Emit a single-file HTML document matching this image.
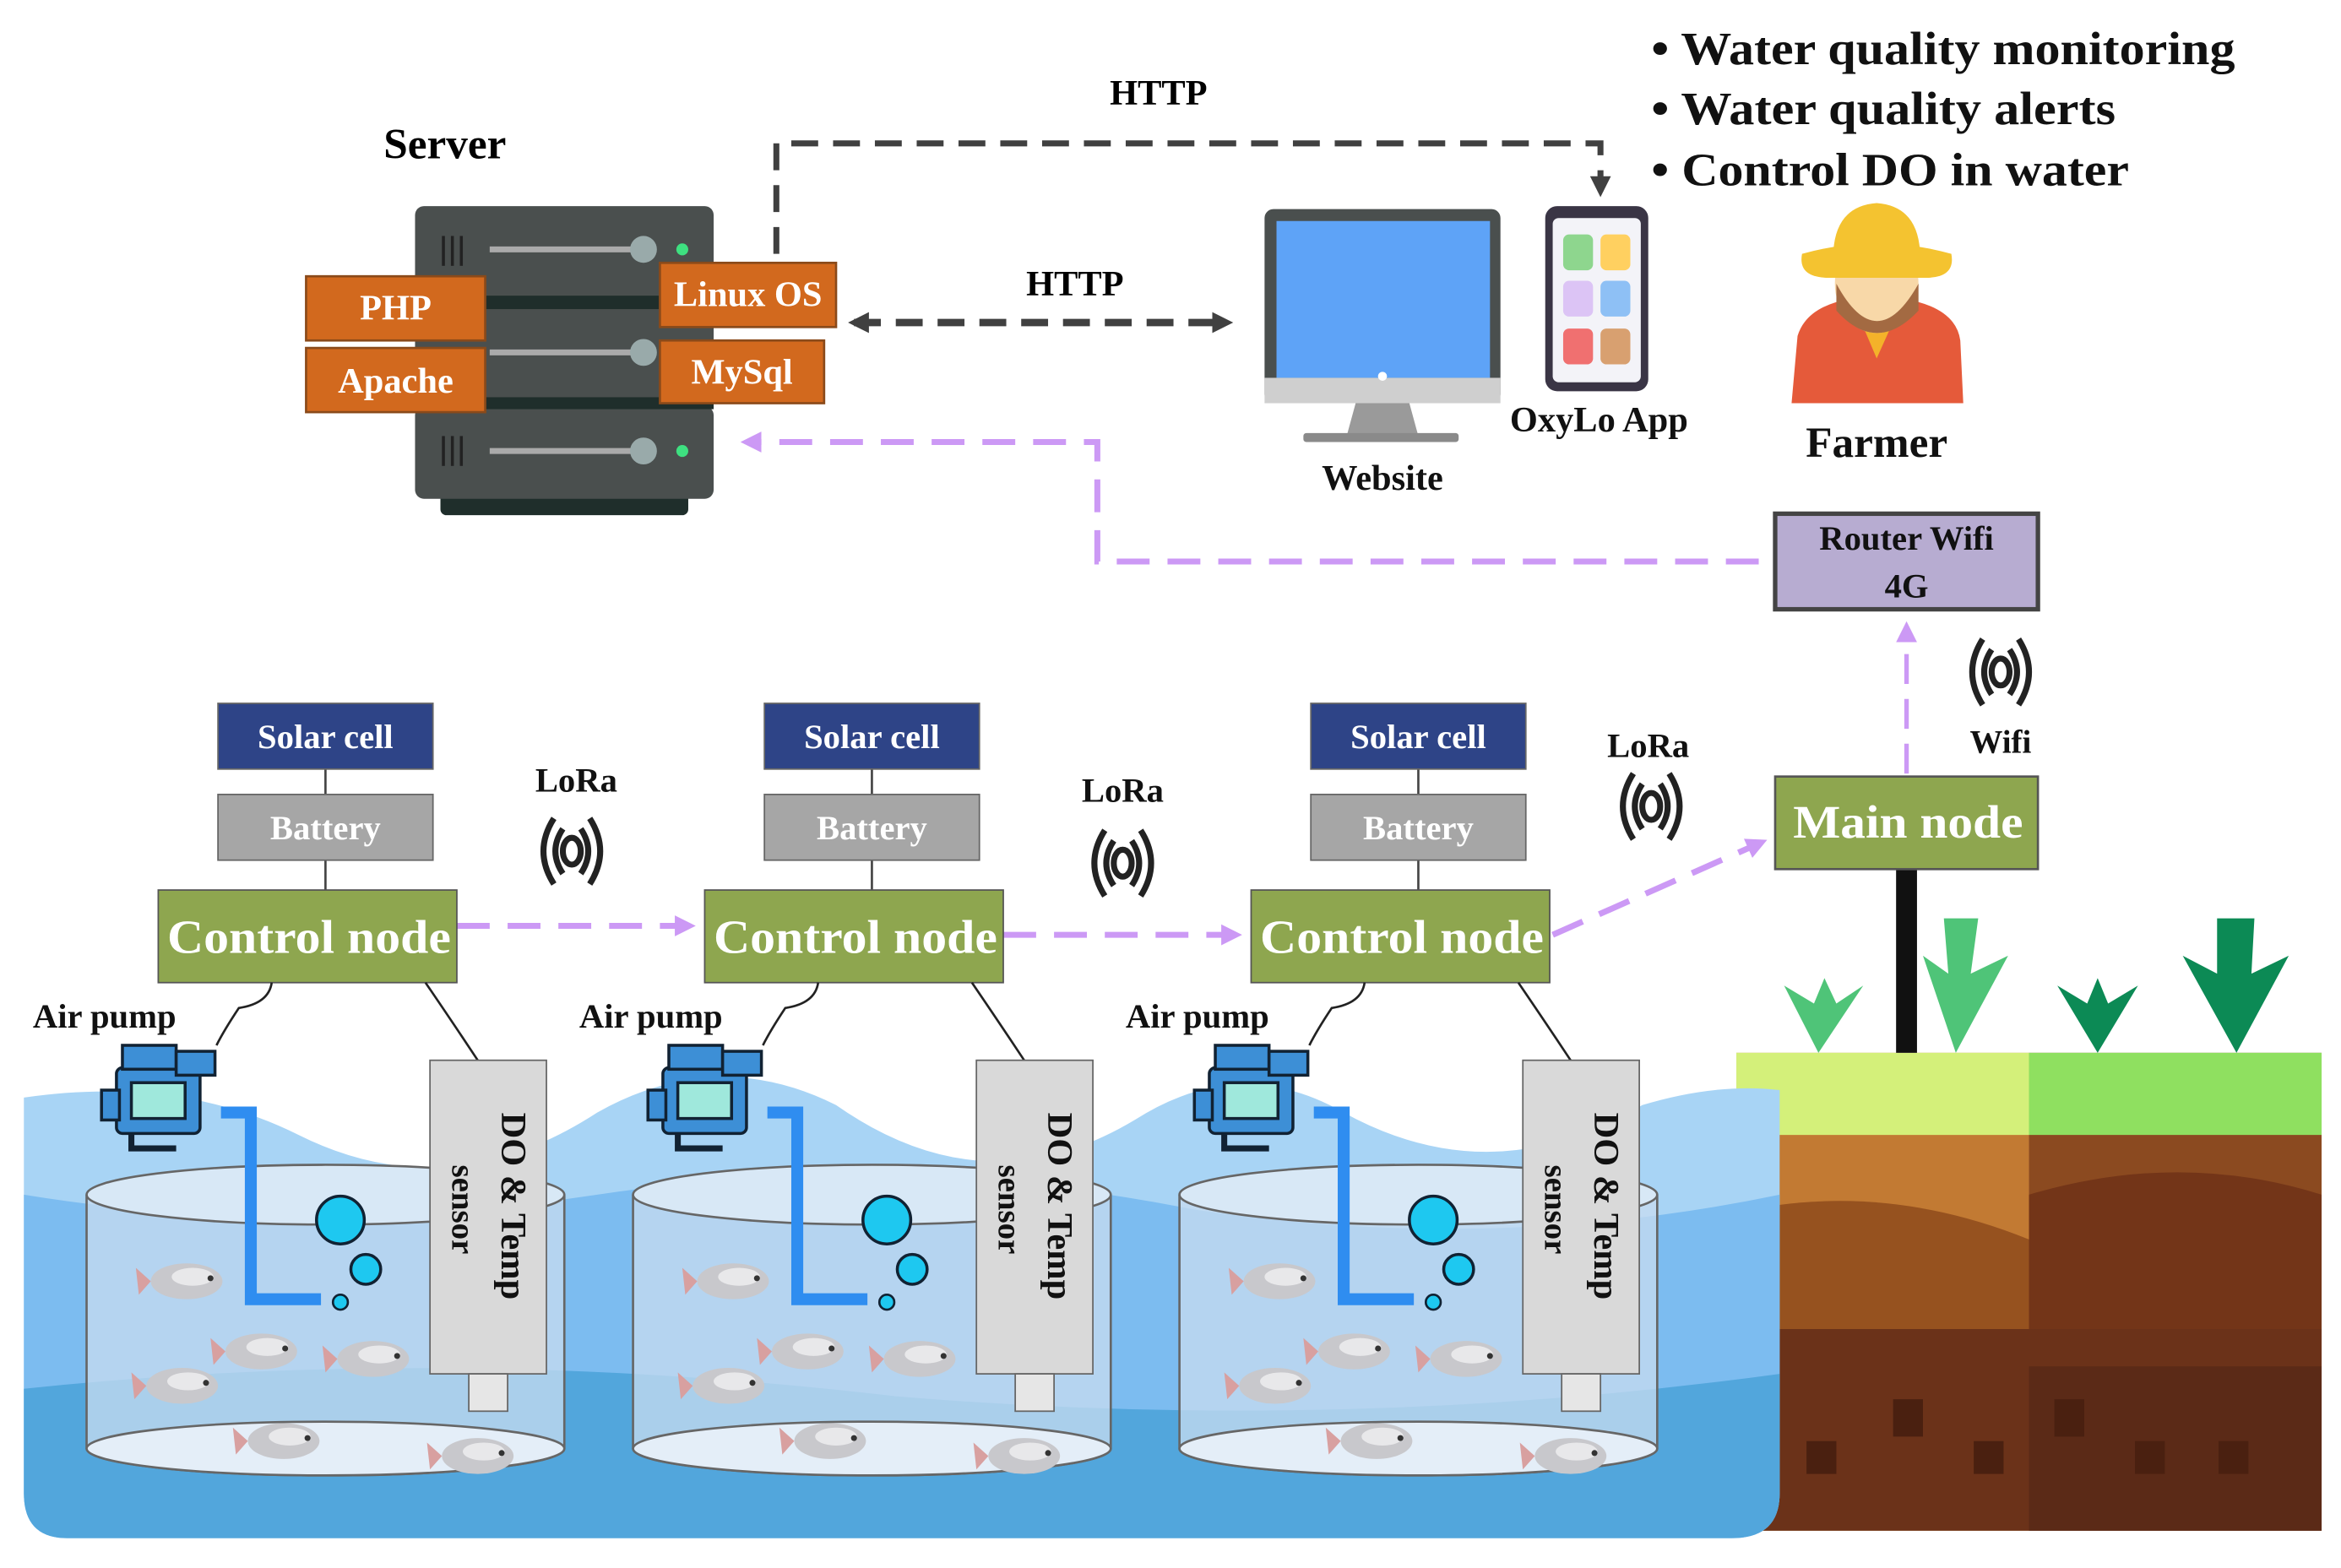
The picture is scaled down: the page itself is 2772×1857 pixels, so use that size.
<!DOCTYPE html>
<html><head><meta charset="utf-8"><style>
html,body{margin:0;padding:0;background:#fff;}
svg{display:block;}
text{font-family:"Liberation Serif",serif;font-weight:bold;}
</style></head><body>
<svg width="2772" height="1857" viewBox="0 0 1568 1050" preserveAspectRatio="none" xmlns="http://www.w3.org/2000/svg">
<defs>
<marker id="ads" markerWidth="14" markerHeight="14" refX="10" refY="7" orient="auto-start-reverse" markerUnits="userSpaceOnUse"><path d="M0,0 L14,7 L0,14 z" fill="#404040"/></marker>
<marker id="ap" markerWidth="14" markerHeight="14" refX="10" refY="7" orient="auto" markerUnits="userSpaceOnUse"><path d="M0,0 L14,7 L0,14 z" fill="#cc99f5"/></marker>
<g id="fish"><ellipse cx="0" cy="0" rx="24" ry="12" fill="#c8c8cc"/><ellipse cx="4" cy="-3" rx="14" ry="6" fill="#e8e8ea"/><path d="M-24,0 L-34,-9 L-32,9 z" fill="#d8a0a0"/><circle cx="16" cy="-2" r="2" fill="#333"/></g>
<g id="wave"><path d="M-12,-22 Q-26,0 -12,22 M-6,-15 Q-16,0 -6,15 M12,-22 Q26,0 12,22 M6,-15 Q16,0 6,15" stroke="#222" stroke-width="4" fill="none"/><ellipse cx="0" cy="0" rx="6" ry="9" stroke="#222" stroke-width="4" fill="none"/></g>
<g id="pump"><rect x="10" y="15" width="56" height="44" rx="4" fill="#3d8fd6" stroke="#123" stroke-width="2"/><rect x="20" y="25" width="36" height="24" fill="#9fe8dc" stroke="#123" stroke-width="2"/><rect x="0" y="30" width="12" height="20" fill="#3d8fd6" stroke="#123" stroke-width="2"/><rect x="14" y="0" width="36" height="16" fill="#3d8fd6" stroke="#123" stroke-width="2"/><rect x="50" y="4" width="26" height="16" fill="#3d8fd6" stroke="#123" stroke-width="2"/><path d="M20,59 v10 h30" stroke="#123" stroke-width="4" fill="none"/></g>
</defs>

<g font-size="31" fill="#111">
<text x="1106" y="43" textLength="391" lengthAdjust="spacingAndGlyphs">• Water quality monitoring</text>
<text x="1106" y="83" textLength="311" lengthAdjust="spacingAndGlyphs">• Water quality alerts</text>
<text x="1106" y="124" textLength="320" lengthAdjust="spacingAndGlyphs">• Control DO in water</text>
</g>
<text x="776" y="70" font-size="24" text-anchor="middle">HTTP</text>
<text x="720" y="198" font-size="24" text-anchor="middle">HTTP</text>
<text x="298" y="106" font-size="29" text-anchor="middle">Server</text>

<rect x="295" y="300" width="166" height="45" rx="4" fill="#1f2e2b"/>
<rect x="278" y="138" width="200" height="62" rx="6" fill="#4a4f4e"/>
<rect x="278" y="205" width="200" height="63" rx="6" fill="#4a4f4e"/>
<rect x="278" y="272" width="200" height="62" rx="6" fill="#4a4f4e"/>
<rect x="278" y="198" width="200" height="9" fill="#1f2e2b"/>
<rect x="278" y="266" width="200" height="8" fill="#1f2e2b"/>
<g stroke="#aaa" stroke-width="4"><line x1="328" y1="167" x2="425" y2="167"/><line x1="328" y1="236" x2="425" y2="236"/><line x1="328" y1="302" x2="425" y2="302"/></g>
<g fill="#9aa"><circle cx="431" cy="167" r="9"/><circle cx="431" cy="236" r="9"/><circle cx="431" cy="302" r="9"/></g>
<g fill="#3ee080"><circle cx="457" cy="167" r="4"/><circle cx="457" cy="236" r="4"/><circle cx="457" cy="302" r="4"/></g>
<g stroke="#222" stroke-width="2"><line x1="297" y1="158" x2="297" y2="178"/><line x1="303" y1="158" x2="303" y2="178"/><line x1="309" y1="158" x2="309" y2="178"/><line x1="297" y1="292" x2="297" y2="312"/><line x1="303" y1="292" x2="303" y2="312"/><line x1="309" y1="292" x2="309" y2="312"/></g>
<g fill="#d2691e" stroke="#8a4a1a" stroke-width="1.5">
<rect x="205" y="185" width="120" height="43"/><rect x="205" y="233" width="120" height="43"/>
<rect x="442" y="176" width="118" height="43"/><rect x="442" y="228" width="110" height="42"/></g>
<g fill="#fff" font-size="24" text-anchor="middle">
<text x="265" y="214">PHP</text><text x="265" y="263">Apache</text><text x="501" y="205">Linux OS</text><text x="497" y="257">MySql</text></g>

<path d="M520,170 V96 H1072 V128" stroke="#404040" stroke-width="4" stroke-dasharray="18,10" fill="none" marker-end="url(#ads)"/>
<line x1="572" y1="216" x2="822" y2="216" stroke="#404040" stroke-width="5" stroke-dasharray="18,10" marker-start="url(#ads)" marker-end="url(#ads)"/>

<rect x="847" y="140" width="158" height="130" rx="6" fill="#4a4f4e"/>
<rect x="855" y="148" width="143" height="105" fill="#5ea3f7"/>
<rect x="847" y="253" width="158" height="17" fill="#cfcfcf"/>
<circle cx="926" cy="252" r="3" fill="#fff"/>
<path d="M908,270 H944 L950,292 H902 z" fill="#9a9a9a"/>
<rect x="873" y="290" width="104" height="6" rx="2" fill="#8a8a8a"/>
<text x="926" y="328" font-size="24" text-anchor="middle" fill="#111">Website</text>
<rect x="1035" y="138" width="69" height="124" rx="8" fill="#3a3545"/>
<rect x="1040" y="146" width="59" height="110" rx="4" fill="#f3f3f8"/>
<g><rect x="1047" y="157" width="20" height="24" rx="4" fill="#8ed68e"/><rect x="1072" y="157" width="20" height="24" rx="4" fill="#ffd060"/>
<rect x="1047" y="188" width="20" height="24" rx="4" fill="#dcc4f5"/><rect x="1072" y="188" width="20" height="24" rx="4" fill="#8ec0f5"/>
<rect x="1047" y="220" width="20" height="24" rx="4" fill="#f07070"/><rect x="1072" y="220" width="20" height="24" rx="4" fill="#d8a070"/></g>
<text x="1071" y="289" font-size="24" text-anchor="middle" fill="#111">OxyLo App</text>
<path d="M1200,270 L1204,225 Q1210,205 1240,200 L1275,200 Q1310,206 1313,228 L1315,270 z" fill="#e55a3a"/>
<path d="M1240,200 L1257,240 L1275,200 z" fill="#f4b22a"/>
<ellipse cx="1257" cy="190" rx="28" ry="33" fill="#f8d8a8"/>
<path d="M1230,190 Q1257,240 1285,190 L1285,208 Q1257,238 1230,208 z" fill="#a36a42"/>
<path d="M1207,170 Q1257,156 1307,170 Q1310,186 1290,186 L1225,186 Q1204,186 1207,170 z" fill="#f4c330"/>
<path d="M1228,168 Q1230,138 1257,136 Q1284,138 1286,168 z" fill="#f4c330"/>
<text x="1257" y="306" font-size="29" text-anchor="middle" fill="#111">Farmer</text>

<path d="M1178,376 H735 V296 H500" stroke="#cc99f5" stroke-width="4" stroke-dasharray="22,12" fill="none" marker-end="url(#ap)"/>
<rect x="1189" y="344" width="176" height="64" fill="#b7acd1" stroke="#444" stroke-width="3"/>
<text x="1277" y="368" font-size="23" text-anchor="middle" fill="#111">Router Wifi</text>
<text x="1277" y="400" font-size="23" text-anchor="middle" fill="#111">4G</text>
<line x1="1277" y1="518" x2="1277" y2="420" stroke="#cc99f5" stroke-width="3" stroke-dasharray="20,10" marker-end="url(#ap)"/>
<use href="#wave" x="1340" y="450"/>
<text x="1340" y="504" font-size="22" text-anchor="middle" fill="#111">Wifi</text>

<rect x="1163" y="705" width="196" height="320" fill="#c27a33"/>
<rect x="1359" y="705" width="196" height="320" fill="#8b4a20"/>
<path d="M1163,812 Q1260,790 1359,830 L1359,1025 H1163 z" fill="#96521f"/>
<path d="M1359,800 Q1460,770 1555,800 V1025 H1359 z" fill="#733518"/>
<path d="M1163,890 H1555 V1025 H1163 z" fill="#6b3219"/>
<path d="M1359,915 H1555 V1025 H1359 z" fill="#5b2a17"/>
<rect x="1163" y="705" width="196" height="55" fill="#d4f07a"/>
<rect x="1359" y="705" width="196" height="55" fill="#8fe060"/>
<g fill="#4a2010"><rect x="1210" y="965" width="20" height="22"/><rect x="1268" y="937" width="20" height="25"/><rect x="1322" y="965" width="20" height="22"/><rect x="1376" y="937" width="20" height="25"/><rect x="1430" y="965" width="20" height="22"/><rect x="1486" y="965" width="20" height="22"/></g>
<g><path d="M1218,705 L1195,660 L1215,672 L1222,655 L1230,672 L1248,660 z" fill="#4fc478"/>
<path d="M1310,705 L1288,640 L1305,652 L1302,615 L1325,615 L1320,652 L1345,640 z" fill="#4fc478"/>
<path d="M1405,705 L1378,660 L1398,672 L1405,655 L1412,672 L1432,660 z" fill="#0c8a55"/>
<path d="M1498,705 L1462,640 L1485,652 L1485,615 L1510,615 L1508,652 L1533,640 z" fill="#0c8a55"/></g>
<rect x="1270" y="582" width="14" height="123" fill="#111"/>
<rect x="1189" y="520" width="176" height="62" fill="#8ea64f" stroke="#555" stroke-width="1.5"/>
<text x="1201" y="561" font-size="31" fill="#fff" textLength="154" lengthAdjust="spacingAndGlyphs">Main node</text>

<path d="M16,735 Q120,720 200,760 Q300,810 400,745 Q480,700 560,740 Q660,810 760,750 Q830,705 900,745 Q1000,800 1100,740 Q1150,725 1192,730 V1000 Q1192,1030 1160,1030 H45 Q16,1030 16,1000 z" fill="#a8d4f5"/>
<path d="M16,800 Q200,830 400,800 Q600,770 800,810 Q1000,840 1192,800 V1000 Q1192,1030 1160,1030 H45 Q16,1030 16,1000 z" fill="#7cbcf0"/>
<path d="M16,930 Q300,900 600,935 Q900,960 1192,920 V1000 Q1192,1030 1160,1030 H45 Q16,1030 16,1000 z" fill="#52a6dc"/>

<g font-size="23" fill="#111" text-anchor="middle"><text x="386" y="530">LoRa</text><text x="752" y="537">LoRa</text><text x="1104" y="507">LoRa</text></g>
<use href="#wave" x="383" y="570"/><use href="#wave" x="752" y="578"/><use href="#wave" x="1106" y="540"/>

<line x1="306" y1="620" x2="462" y2="620" stroke="#cc99f5" stroke-width="4" stroke-dasharray="22,12" marker-end="url(#ap)"/>
<line x1="672" y1="626" x2="828" y2="626" stroke="#cc99f5" stroke-width="4" stroke-dasharray="22,12" marker-end="url(#ap)"/>
<line x1="1040" y1="626" x2="1180" y2="564" stroke="#cc99f5" stroke-width="4" stroke-dasharray="22,12" marker-end="url(#ap)"/>

<g id="m1">
<line x1="218" y1="515" x2="218" y2="596" stroke="#444" stroke-width="1.5"/>
<rect x="146" y="471" width="144" height="44" fill="#2e4487" stroke="#666"/>
<text x="218" y="501" font-size="23" text-anchor="middle" fill="#fff">Solar cell</text>
<rect x="146" y="532" width="144" height="44" fill="#a6a6a6" stroke="#666"/>
<text x="218" y="562" font-size="23" text-anchor="middle" fill="#fff">Battery</text>
<rect x="106" y="596" width="200" height="62" fill="#8ea64f" stroke="#555"/>
<text x="112" y="638" font-size="32" fill="#fff" textLength="190" lengthAdjust="spacingAndGlyphs">Control node</text>
<path d="M182,658 Q180,672 160,675 Q150,690 145,700" stroke="#222" stroke-width="1.5" fill="none"/>
<path d="M285,658 Q300,680 310,695 L320,710" stroke="#222" stroke-width="1.5" fill="none"/>
<text x="70" y="688" font-size="23" text-anchor="middle" fill="#111">Air pump</text>
<path d="M58,800 V970 A160,18 0 0 0 378,970 V800" fill="#c8dcf0" fill-opacity="0.75" stroke="#666" stroke-width="1.5"/>
<ellipse cx="218" cy="800" rx="160" ry="20" fill="#d8e8f6" stroke="#666" stroke-width="1.5"/>
<ellipse cx="218" cy="970" rx="160" ry="18" fill="#e4eef8" stroke="#666" stroke-width="1.5"/>
<use href="#fish" x="125" y="858"/><use href="#fish" x="175" y="905"/><use href="#fish" x="122" y="928"/><use href="#fish" x="250" y="910"/><use href="#fish" x="190" y="965"/><use href="#fish" x="320" y="975"/>
<path d="M148,745 H168 V870 H215" stroke="#2f8df0" stroke-width="8" fill="none"/>
<circle cx="228" cy="817" r="16" fill="#1ec8f0" stroke="#123" stroke-width="2"/>
<circle cx="245" cy="850" r="10" fill="#1ec8f0" stroke="#123" stroke-width="2"/>
<circle cx="228" cy="872" r="5" fill="#1ec8f0" stroke="#123" stroke-width="1.5"/>
<use href="#pump" x="68" y="700"/>
<rect x="288" y="710" width="78" height="210" fill="#d9d9d9" stroke="#666"/>
<rect x="314" y="920" width="26" height="25" fill="#e6e6e6" stroke="#666"/>
<text transform="translate(336,745) rotate(90)" font-size="24" fill="#111">DO &amp; Temp</text>
<text transform="translate(303,780) rotate(90)" font-size="22" fill="#111">sensor</text>
</g>
<use href="#m1" x="366" y="0"/>
<use href="#m1" x="732" y="0"/>
</svg>
</body></html>
